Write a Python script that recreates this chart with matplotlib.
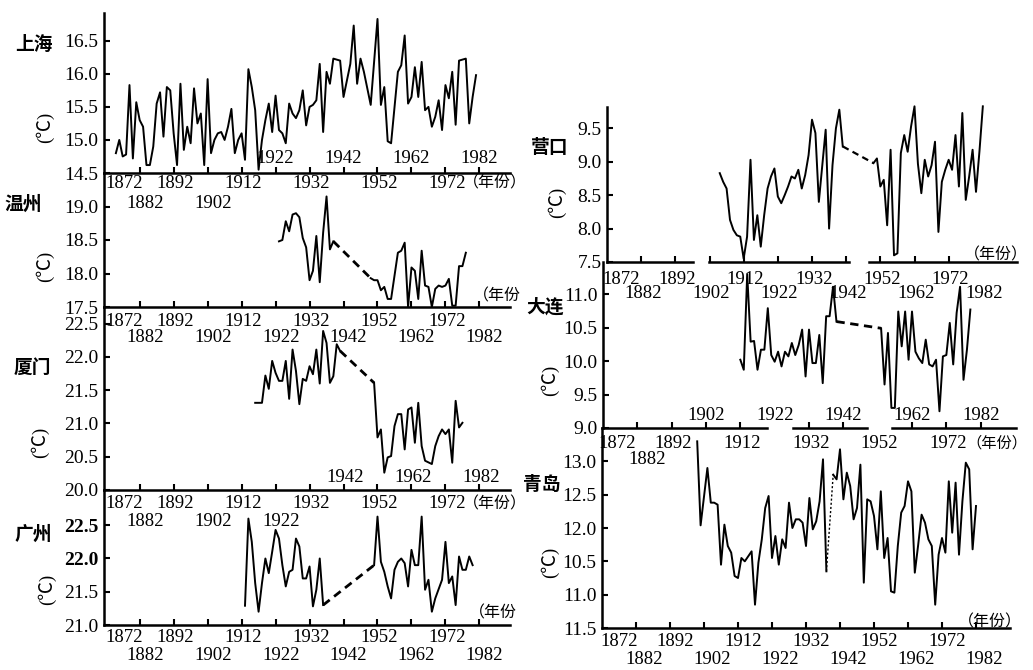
import numpy as np
import matplotlib.pyplot as plt
from matplotlib.transforms import blended_transform_factory as blend

# ---- data (annual mean temperature, deg C) ----
sh_years = [1875, 1876, 1877, 1878, 1879, 1880, 1881, 1882, 1883, 1884, 1885, 1886,
            1887, 1888, 1889, 1890, 1891, 1892, 1893, 1894, 1895, 1896, 1897, 1898,
            1899, 1900, 1901, 1902, 1903, 1904, 1905, 1906, 1907, 1908, 1909, 1910,
            1911, 1912, 1913, 1914, 1915, 1916, 1917, 1918, 1919, 1920, 1921, 1922,
            1923, 1924, 1925, 1926, 1927, 1928, 1929, 1930, 1931, 1932, 1933, 1934,
            1935, 1936, 1937, 1938, 1939, 1941, 1942, 1944, 1945, 1946, 1947, 1948,
            1950, 1952, 1953, 1954, 1955, 1956, 1958, 1959, 1960, 1961, 1962, 1963,
            1964, 1965, 1966, 1967, 1968, 1969, 1970, 1971, 1972, 1973, 1974, 1975,
            1976, 1978, 1979, 1980, 1981]
sh_temp = [14.80, 15.00, 14.75, 14.78, 15.83, 14.72, 15.57, 15.30, 15.20, 14.62, 14.62, 14.90,
           15.55, 15.72, 15.05, 15.80, 15.75, 15.10, 14.62, 15.85, 14.85, 15.20, 14.95, 15.78,
           15.25, 15.40, 14.62, 15.92, 14.80, 15.00, 15.10, 15.12, 15.00, 15.20, 15.47, 14.80,
           15.00, 15.10, 14.70, 16.07, 15.80, 15.45, 14.55, 15.00, 15.30, 15.55, 15.12, 15.67,
           15.15, 15.10, 14.95, 15.55, 15.40, 15.33, 15.45, 15.75, 15.22, 15.50, 15.53, 15.60,
           16.15, 15.12, 16.03, 15.85, 16.23, 16.20, 15.65, 16.15, 16.73, 15.85, 16.23, 16.03,
           15.53, 16.83, 15.53, 15.80, 14.98, 14.95, 16.03, 16.13, 16.58, 15.55, 15.65, 16.10,
           15.65, 16.18, 15.45, 15.50, 15.20, 15.35, 15.60, 15.15, 15.83, 15.63, 16.03, 15.23,
           16.20, 16.23, 15.25, 15.65, 15.98]

wz_years_a = list(range(1923, 1940))
wz_temp_a = [18.48, 18.50, 18.78, 18.63, 18.88, 18.90, 18.84, 18.53, 18.39, 17.90, 18.04,
             18.56, 17.87, 18.61, 19.15, 18.36, 18.48]
wz_years_b = [1950, 1951, 1952, 1953, 1954, 1955, 1956, 1958, 1959, 1960, 1961, 1962, 1963,
              1964, 1965, 1966, 1967, 1968, 1969, 1970, 1971, 1972, 1973, 1974, 1975, 1976,
              1977, 1978]
wz_temp_b = [17.93, 17.90, 17.90, 17.75, 17.80, 17.62, 17.62, 18.31, 18.34, 18.46, 17.50,
             18.09, 18.04, 17.62, 18.34, 17.82, 17.80, 17.50, 17.77, 17.82, 17.80, 17.82,
             17.92, 17.52, 17.52, 18.11, 18.11, 18.31]

xm_years_a = [1916] + list(range(1918, 1942))
xm_temp_a = [21.31, 21.31, 21.72, 21.52, 21.94, 21.76, 21.64, 21.64, 21.94, 21.37, 22.11,
             21.79, 21.29, 21.67, 21.64, 21.86, 21.74, 22.11, 21.60, 22.39, 22.21, 21.61,
             21.71, 22.19, 22.09]
xm_years_b = list(range(1951, 1967)) + list(range(1968, 1978))
xm_temp_b = [21.61, 20.79, 20.91, 20.26, 20.49, 20.51, 20.96, 21.14, 21.14, 20.61, 21.21,
             21.24, 20.71, 21.31, 20.66, 20.44, 20.39, 20.66, 20.81, 20.91, 20.84, 20.91,
             20.41, 21.34, 20.94, 21.01]

gz_years_a = list(range(1913, 1937))
gz_temp_a = [21.29, 22.60, 22.25, 21.63, 21.20, 21.63, 22.00, 21.78, 22.10, 22.43, 22.30,
             21.90, 21.58, 21.80, 21.83, 22.30, 22.18, 21.70, 21.70, 21.88, 21.28, 21.53,
             22.00, 21.30]
gz_years_b = list(range(1951, 1970)) + list(range(1971, 1981))
gz_temp_b = [21.90, 22.63, 21.95, 21.80, 21.58, 21.40, 21.83, 21.95, 22.00, 21.93, 21.58,
             22.13, 21.90, 21.90, 22.63, 21.53, 21.68, 21.20, 21.40, 21.68, 22.25, 21.63,
             21.73, 21.30, 22.03, 21.83, 21.83, 22.03, 21.90]

yk_years_a = list(range(1905, 1935)) + list(range(1936, 1942))
yk_temp_a = [8.83, 8.70, 8.60, 8.13, 7.98, 7.90, 7.88, 7.55, 7.88, 9.03, 7.83, 8.20,
             7.73, 8.20, 8.60, 8.78, 8.90, 8.48, 8.38, 8.50, 8.63, 8.78, 8.75, 8.88,
             8.60, 8.80, 9.10, 9.63, 9.43, 8.40, 9.48, 8.00, 8.95, 9.50, 9.78, 9.23]
yk_years_b = list(range(1950, 1958)) + list(range(1958, 1983))
yk_temp_b = [8.98, 9.05, 8.63, 8.73, 8.05, 9.18, 7.60, 7.63, 9.13, 9.40, 9.15, 9.53,
             9.83, 8.97, 8.53, 9.03, 8.78, 8.95, 9.30, 7.95, 8.70, 8.88, 9.03, 8.88,
             9.40, 8.63, 9.73, 8.43, 8.78, 9.18, 8.55, 9.15, 9.83]

dl_years_a = list(range(1912, 1941))
dl_temp_a = [10.02, 9.87, 11.30, 10.29, 10.30, 9.87, 10.17, 10.17, 10.79, 10.09, 9.99,
             10.14, 9.92, 10.14, 10.07, 10.27, 10.09, 10.24, 10.47, 9.77, 10.47, 9.97,
             9.97, 10.39, 9.67, 10.67, 10.67, 11.11, 10.59]
dl_years_b = list(range(1953, 1980))
dl_temp_b = [10.49, 9.65, 10.42, 9.30, 9.30, 10.74, 10.22, 10.74, 10.02, 10.74, 10.14,
             10.04, 9.97, 10.32, 9.95, 9.92, 10.02, 9.25, 10.07, 10.09, 10.57, 9.95,
             10.72, 11.11, 9.72, 10.17, 10.77]

qd_years_a = [1900, 1901] + list(range(1903, 1915)) + list(range(1916, 1939))
qd_temp_a = [13.30, 12.04, 12.90, 12.38, 12.38, 12.35, 11.45, 12.05, 11.73, 11.63, 11.28,
             11.25, 11.55, 11.50, 11.65, 10.85, 11.48, 11.83, 12.30, 12.48, 11.55, 11.88,
             11.45, 11.83, 11.70, 12.38, 12.00, 12.13, 12.13, 12.08, 11.73, 12.45, 11.98,
             12.10, 12.40, 13.03, 11.35]
qd_years_b = list(range(1940, 1983))
qd_temp_b = [12.80, 12.73, 13.18, 12.43, 12.83, 12.63, 12.13, 12.30, 12.95, 11.18, 12.43,
             12.40, 12.18, 11.68, 12.55, 11.55, 11.85, 11.05, 11.03, 11.73, 12.23, 12.33,
             12.70, 12.55, 11.33, 11.75, 12.20, 12.08, 11.83, 11.73, 10.85, 11.60, 11.85,
             11.63, 12.70, 11.93, 12.68, 11.60, 12.40, 12.98, 12.88, 11.68, 12.33]
# the printed y labels of the Qingdao panel (as they appear, misprints included)
qd_tick_vals = [10.5, 11.0, 11.5, 12.0, 12.5, 13.0]
qd_tick_text = ['11.5', '11.0', '10.5', '12.0', '12.5', '13.0']

row_a = [1872, 1892, 1912, 1932, 1952, 1972]
row_b = [1882, 1902, 1922, 1942, 1962, 1982]

# ---- figure ----
W, H = 1033, 670
plt.rcParams['font.family'] = ['Liberation Serif', 'Noto Sans CJK SC']
fig = plt.figure(figsize=(W / 100, H / 100), dpi=100)
fig.patch.set_facecolor('white')
YR = 13.5   # year label size


def new_ax(left, top, right, bottom, xlim, ylim, yticks, ylabels=None):
    ax = fig.add_axes([left / W, 1 - bottom / H, (right - left) / W, (bottom - top) / H])
    ax.set_xlim(*xlim)
    ax.set_ylim(*ylim)
    ax.patch.set_alpha(0)
    for s in ('top', 'right'):
        ax.spines[s].set_visible(False)
    for s in ('left', 'bottom'):
        ax.spines[s].set_linewidth(1.8)
    ax.tick_params(direction='in', length=4, width=1.5, labelsize=14, pad=4)
    ax.tick_params(axis='x', labelbottom=False)
    ax.set_yticks(yticks)
    ax.set_yticklabels(ylabels if ylabels else ['%.1f' % v for v in yticks])
    return ax


def line(ax, yrs, vals):
    ax.plot(yrs, vals, color='black', lw=1.4, clip_on=False)


def link(ax, ya, va, yb, vb, ls=(0, (3, 2)), lw=2.0):
    ax.plot([ya[-1], yb[0]], [va[-1], vb[0]], color='black', lw=lw, ls=ls)


def year_row(ax, years, ypix, dx=1.0, first=1877.5):
    tr = blend(ax.transData, fig.transFigure)
    for yr in years:
        x = first if yr == 1872 else yr + dx
        ax.text(x, 1 - ypix / H, str(yr), transform=tr, ha='center', va='center',
                fontsize=YR, clip_on=False)


def segments(ax, segs):
    ax.spines['bottom'].set_visible(False)
    tr = blend(ax.transData, ax.transAxes)
    for a, b in segs:
        ax.plot([a, b], [0, 0], color='black', lw=1.8, transform=tr, clip_on=False)


def label(x, y, s, size=13.5, **kw):
    fig.text(x / W, 1 - y / H, s, ha='center', va='center', fontsize=size, **kw)


LX = (1871.5, 1991)
RX = (1872, 1992)
ticks_all = list(range(1882, 1983, 10))

# Shanghai
ax = new_ax(104, 13, 510, 173, LX, (14.5, 16.92), [14.5, 15.0, 15.5, 16.0, 16.5])
ax.set_xticks(ticks_all)
line(ax, sh_years, sh_temp)
year_row(ax, row_a, 183, dx=0.5)
year_row(ax, [1882, 1902], 204, dx=1.5)
year_row(ax, [1922, 1942, 1962, 1982], 159, dx=0.0)
label(495, 183, '（年份）', 11.5)
label(34, 45, '上海', 13.5, fontweight='bold')
label(45, 127, '(℃)', 13.5, rotation=90)

# Wenzhou
ax = new_ax(104, 173, 510, 307, LX, (17.5, 19.5), [17.5, 18.0, 18.5, 19.0])
ax.set_xticks(ticks_all)
line(ax, wz_years_a, wz_temp_a)
line(ax, wz_years_b, wz_temp_b)
link(ax, wz_years_a, wz_temp_a, wz_years_b, wz_temp_b)
year_row(ax, row_a, 321, dx=0.5)
year_row(ax, row_b, 338, dx=1.5)
label(497, 296, '（年份', 11.5)
label(23, 205, '温州', 13.5, fontweight='bold')
label(45, 266, '(℃)', 13.5, rotation=90)

# Xiamen
ax = new_ax(104, 307, 510, 490, LX, (20.0, 22.75), [20.0, 20.5, 21.0, 21.5, 22.0, 22.5])
ax.set_xticks(ticks_all)
line(ax, xm_years_a, xm_temp_a)
line(ax, xm_years_b, xm_temp_b)
link(ax, xm_years_a, xm_temp_a, xm_years_b, xm_temp_b)
year_row(ax, row_a, 504, dx=0.5)
year_row(ax, [1882, 1902, 1922], 522, dx=1.5)
year_row(ax, [1942, 1962, 1982], 477, dx=0.5)
label(495, 504, '（年份）', 11.5)
label(32, 368, '厦门', 13.5, fontweight='bold')
label(40, 442, '(℃)', 13.5, rotation=90)

# Guangzhou
ax = new_ax(104, 490, 510, 625, LX, (21.0, 23.03), [21.0, 21.5, 22.0, 22.5])
ax.set_xticks(ticks_all)
for t in ax.get_yticklabels():
    if t.get_text() in ('22.0', '22.5'):
        t.set_fontweight('bold')
line(ax, gz_years_a, gz_temp_a)
line(ax, gz_years_b, gz_temp_b)
link(ax, gz_years_a, gz_temp_a, gz_years_b, gz_temp_b)
year_row(ax, row_a, 638, dx=0.5)
year_row(ax, row_b, 655, dx=1.5)
label(493, 613, '（年份', 11.5)
label(33, 535, '广州', 13.5, fontweight='bold')
label(47, 589, '(℃)', 13.5, rotation=90)

# Yingkou
ax = new_ax(607, 107, 1017, 262, RX, (7.5, 9.82), [7.5, 8.0, 8.5, 9.0, 9.5])
segments(ax, [(1872, 1897.2), (1901.8, 1942.7), (1948.6, 1992)])
ax.set_xticks([1882, 1892, 1902, 1912, 1922, 1932, 1942, 1952, 1962, 1972])
line(ax, yk_years_a, yk_temp_a)
line(ax, yk_years_b, yk_temp_b)
link(ax, yk_years_a, yk_temp_a, yk_years_b, yk_temp_b, lw=1.6)
year_row(ax, row_a, 279, dx=0.5, first=1876)
year_row(ax, row_b, 294, dx=0.5)
label(996, 255, '（年份）', 11.5)
label(550, 148, '营口', 13.5, fontweight='bold')
label(557, 202, '(℃)', 13.5, rotation=90)

# Dalian
ax = new_ax(603, 262, 1015, 428, RX, (9.0, 11.48), [9.0, 9.5, 10.0, 10.5, 11.0])
segments(ax, [(1871.7, 1919.8), (1927.4, 1948.9), (1956.2, 1992.3)])
ax.set_xticks([1882, 1892, 1902, 1912, 1932, 1942, 1962, 1972, 1982])
line(ax, dl_years_a, dl_temp_a)
line(ax, dl_years_b, dl_temp_b)
link(ax, dl_years_a, dl_temp_a, dl_years_b, dl_temp_b)
year_row(ax, [1902, 1922, 1942, 1962, 1982], 415, dx=0.0)
year_row(ax, row_a, 443, dx=0.5, first=1876)
year_row(ax, [1882], 460, dx=3.0)
label(997, 443, '（年份）', 11)
label(545, 307, '大连', 13.5, fontweight='bold')
label(550, 380, '(℃)', 13.5, rotation=90)

# Qingdao
ax = new_ax(602, 428, 1010, 628, RX, (10.5, 13.5), qd_tick_vals, qd_tick_text)
ax.set_xticks(ticks_all)
line(ax, qd_years_a, qd_temp_a)
line(ax, qd_years_b, qd_temp_b)
link(ax, qd_years_a, qd_temp_a, qd_years_b, qd_temp_b, ls=(0, (1.5, 1.5)), lw=1.0)
year_row(ax, row_a, 642, dx=1.5, first=1877)
year_row(ax, row_b, 659, dx=2.5)
label(990, 622, '（年份）', 11.5)
label(542, 485, '青岛', 13.5, fontweight='bold')
label(550, 562, '(℃)', 13.5, rotation=90)

fig.savefig('out.png', dpi=100, facecolor='white')
